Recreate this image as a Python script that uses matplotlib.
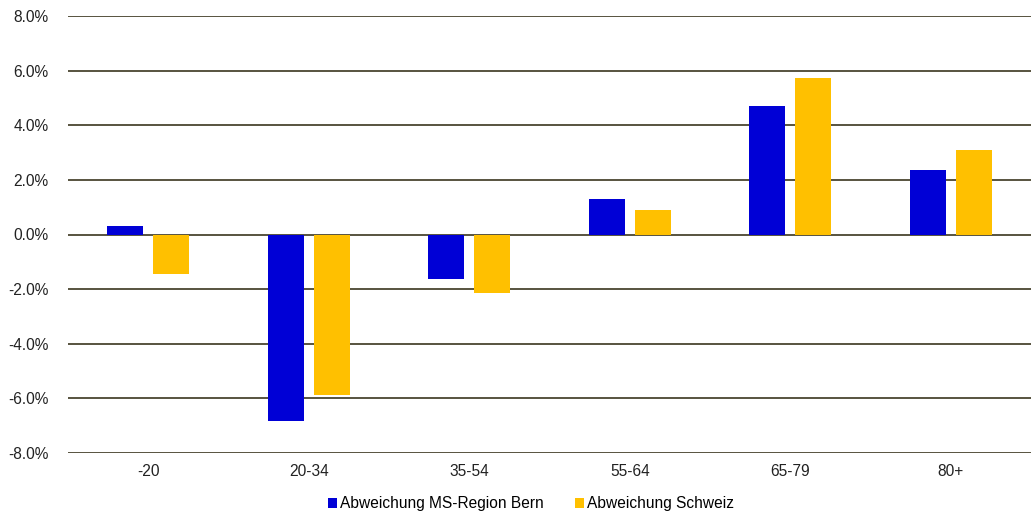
import matplotlib
matplotlib.use("Agg")
import matplotlib.pyplot as plt
import numpy as np
from matplotlib.ticker import FuncFormatter

categories = ["-20", "20-34", "35-54", "55-64", "65-79", "80+"]
bern = [0.31, -6.83, -1.63, 1.30, 4.71, 2.36]
schweiz = [-1.45, -5.88, -2.14, 0.90, 5.73, 3.10]
yticks = [-8, -6, -4, -2, 0, 2, 4, 6, 8]

plt.rcParams['font.family'] = ['Liberation Sans', 'DejaVu Sans']

fig = plt.figure(figsize=(10.35, 5.13), dpi=100)
ax = fig.add_axes([68/1035, 1-453/513, (1031-68)/1035, (453-16)/513])

x = np.arange(len(categories))
w = 0.224
off = 0.143
ax.bar(x - off, bern, w, color='#0000D6', label='Abweichung MS-Region Bern', zorder=3)
ax.bar(x + off, schweiz, w, color='#FFC000', label='Abweichung Schweiz', zorder=3)

ax.set_xlim(-0.5, len(categories) - 0.5)
ax.set_ylim(-8, 8)
ax.set_yticks(yticks)
ax.yaxis.set_major_formatter(FuncFormatter(lambda v, p: f"{v:.1f}%"))
ax.grid(axis='y', color='#57533F', linewidth=1.4, zorder=1)
ax.set_xticks(x)
ax.set_xticklabels(categories)
ax.tick_params(length=0, labelsize=11.2, colors='#222222')
ax.tick_params(axis='x', pad=8)
ax.tick_params(axis='y', pad=14)
for s in ax.spines.values():
    s.set_visible(False)

ax.legend(loc='lower center', bbox_to_anchor=(531/1035, -0.012), bbox_transform=fig.transFigure,
          ncol=2, frameon=False, fontsize=11.2, handlelength=0.6, handleheight=0.6,
          handletextpad=0.2, columnspacing=2.0, borderaxespad=0.1)

fig.savefig("out.png", dpi=100)
